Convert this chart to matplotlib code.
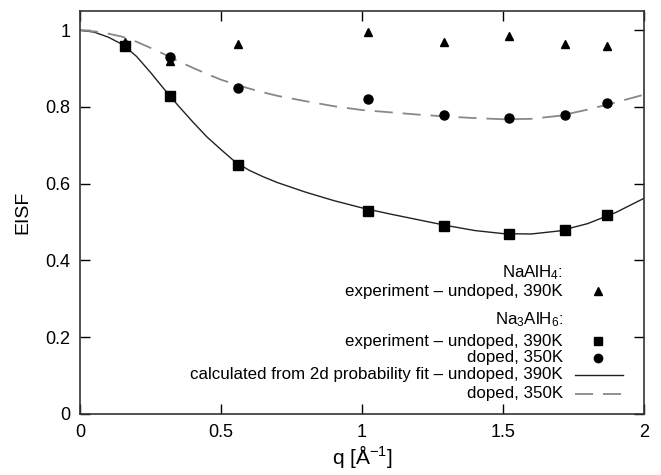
import matplotlib
matplotlib.use("Agg")
import matplotlib.pyplot as plt

plt.rcParams['font.family'] = ['Liberation Sans', 'DejaVu Sans']
plt.rcParams['mathtext.fontset'] = 'custom'
plt.rcParams['mathtext.rm'] = 'Liberation Sans'
plt.rcParams['mathtext.it'] = 'Liberation Sans'

# measured q positions
q_exp = [0.16, 0.32, 0.56, 1.02, 1.29, 1.52, 1.72, 1.87]

# NaAlH4 experiment, undoped 390K
eisf_naalh4 = [0.97, 0.92, 0.965, 0.994, 0.969, 0.986, 0.965, 0.958]
# Na3AlH6 experiment, undoped 390K
eisf_undoped = [0.959, 0.828, 0.650, 0.530, 0.489, 0.469, 0.480, 0.519]
# Na3AlH6 experiment, doped 350K
eisf_doped = [0.962, 0.931, 0.850, 0.820, 0.780, 0.770, 0.780, 0.809]

# fitted curves
q_fit = [0.0, 0.05, 0.1, 0.15, 0.2, 0.25, 0.3, 0.35, 0.4, 0.45, 0.5, 0.55,
         0.6, 0.65, 0.7, 0.8, 0.9, 1.0, 1.1, 1.2, 1.3, 1.4, 1.5, 1.6, 1.7,
         1.8, 1.9, 2.0]
fit_undoped = [1.0, 0.995, 0.982, 0.963, 0.932, 0.890, 0.845, 0.802, 0.761,
               0.722, 0.689, 0.657, 0.635, 0.618, 0.603, 0.578, 0.556, 0.537,
               0.521, 0.506, 0.491, 0.478, 0.470, 0.469, 0.477, 0.496, 0.525,
               0.562]
fit_doped = [1.0, 0.997, 0.991, 0.983, 0.970, 0.954, 0.937, 0.919, 0.902,
             0.886, 0.871, 0.859, 0.848, 0.838, 0.829, 0.815, 0.802, 0.792,
             0.786, 0.780, 0.775, 0.771, 0.768, 0.769, 0.777, 0.793, 0.812,
             0.832]

fig = plt.figure(figsize=(6.61, 4.75), dpi=100)
ax = fig.add_axes([80 / 661, 61 / 475, 564 / 661, 403 / 475])

ax.plot(q_fit, fit_undoped, color="#222222", lw=1.0)
ax.plot(q_fit, fit_doped, color="#888888", lw=1.3, dashes=(10, 5.5))
ax.plot(q_exp, eisf_naalh4, ls='none', marker='^', ms=5.5, color='black')
ax.plot(q_exp, eisf_doped, ls='none', marker='o', ms=6.5, color='black')
ax.plot(q_exp, eisf_undoped, ls='none', marker='s', ms=6.5, color='black')

ax.set_xlim(0, 2)
ax.set_ylim(0, 1.05)
ax.set_xticks([0, 0.5, 1, 1.5, 2])
ax.set_xticklabels(['0', '0.5', '1', '1.5', '2'])
ax.set_yticks([0, 0.2, 0.4, 0.6, 0.8, 1])
ax.set_yticklabels(['0', '0.2', '0.4', '0.6', '0.8', '1'])
ax.tick_params(direction='in', length=7, width=1, top=True, right=True,
               labelsize=13, pad=7)
for s in ax.spines.values():
    s.set_linewidth(1.2)
    s.set_color('#333333')

ax.set_xlabel(r"q [$\mathrm{\AA}^{-1}$]", fontsize=15, labelpad=2)
ax.set_ylabel("EISF", fontsize=14, labelpad=10)

# gnuplot style key
tx = 0.856
rows = [
    (0.350, r"NaAlH$_4$:", None),
    (0.305, "experiment \u2013 undoped, 390K", '^'),
    (0.233, r"Na$_3$AlH$_6$:", None),
    (0.181, "experiment \u2013 undoped, 390K", 's'),
    (0.139, "doped, 350K", 'o'),
    (0.097, "calculated from 2d probability fit \u2013 undoped, 390K", '-'),
    (0.050, "doped, 350K", '--'),
]
for y, label, sym in rows:
    ax.text(tx, y, label, transform=ax.transAxes, ha='right', va='center',
            fontsize=12.2)
    if sym == '-':
        ax.plot([0.878, 0.963], [y, y], transform=ax.transAxes,
                color="#222222", lw=1.0)
    elif sym == '--':
        ax.plot([0.878, 0.963], [y, y], transform=ax.transAxes,
                color="#888888", lw=1.3, dashes=(10, 5.5))
    elif sym is not None:
        ms = 5.5 if sym == '^' else 6
        ax.plot([0.918], [y], transform=ax.transAxes, ls='none', marker=sym,
                ms=ms, color='black')

fig.savefig("out.png", dpi=100)
